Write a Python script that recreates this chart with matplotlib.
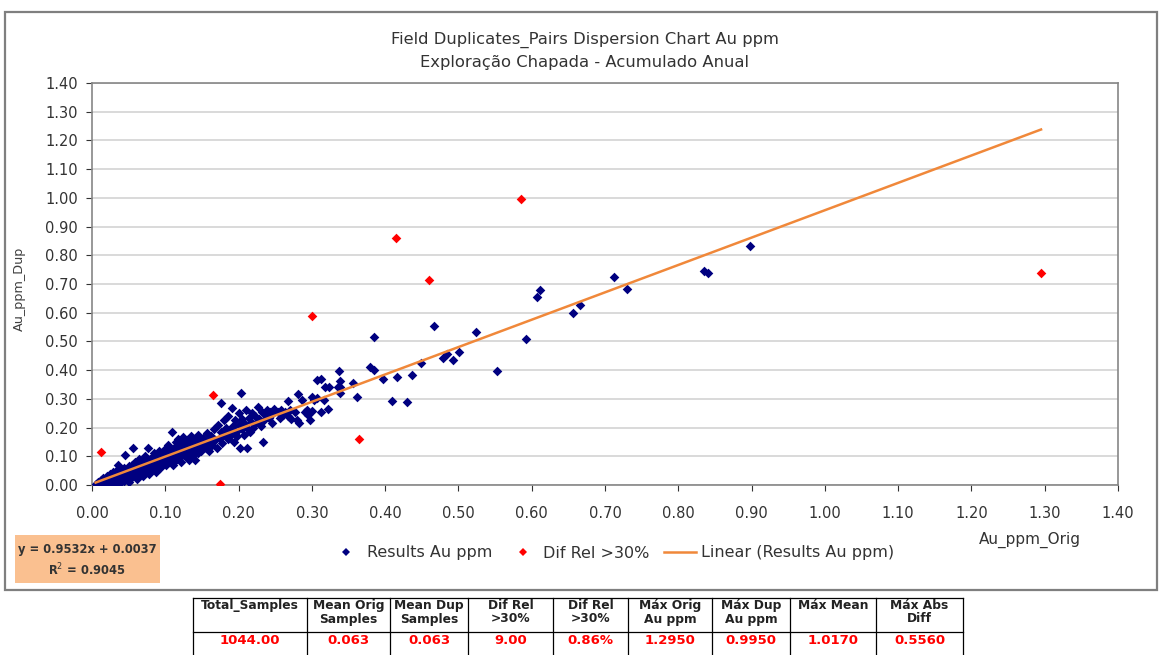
import matplotlib.pyplot as plt
import numpy as np
from matplotlib.lines import Line2D
from matplotlib.patches import Rectangle

# Results Au ppm (original vs duplicate)
results_x = [
    0.005, 0.008, 0.010, 0.012, 0.014, 0.015, 0.017, 0.018, 0.020, 0.021, 0.022, 0.024, 0.025, 0.026,
    0.027, 0.028, 0.030, 0.031, 0.032, 0.033, 0.034, 0.035, 0.036, 0.037, 0.038, 0.039, 0.040, 0.041,
    0.042, 0.043, 0.044, 0.045, 0.046, 0.047, 0.048, 0.049, 0.050, 0.050, 0.051, 0.045, 0.035, 0.056,
    0.052, 0.053, 0.054, 0.055, 0.056, 0.057, 0.058, 0.059, 0.060, 0.061, 0.062, 0.063, 0.064, 0.065,
    0.066, 0.067, 0.068, 0.069, 0.070, 0.071, 0.072, 0.073, 0.074, 0.075, 0.076, 0.077, 0.078, 0.079,
    0.080, 0.081, 0.082, 0.083, 0.084, 0.085, 0.086, 0.087, 0.088, 0.089, 0.090, 0.091, 0.092, 0.093,
    0.094, 0.095, 0.096, 0.097, 0.098, 0.099, 0.100, 0.100,
    0.101, 0.102, 0.103, 0.104, 0.105, 0.106, 0.107, 0.108, 0.109, 0.110, 0.111, 0.112, 0.113, 0.114,
    0.115, 0.116, 0.117, 0.118, 0.119, 0.120, 0.121, 0.122, 0.123, 0.124, 0.125, 0.126, 0.127, 0.128,
    0.129, 0.130, 0.131, 0.132, 0.133, 0.134, 0.135, 0.136, 0.137, 0.138, 0.139, 0.140, 0.141, 0.142,
    0.143, 0.144, 0.145, 0.146, 0.147, 0.148, 0.149, 0.150,
    0.152, 0.155, 0.157, 0.158, 0.160, 0.162, 0.164, 0.166, 0.168, 0.170, 0.172, 0.174, 0.176, 0.176,
    0.178, 0.180, 0.181, 0.183, 0.185, 0.186, 0.188, 0.190, 0.191, 0.192, 0.194, 0.195, 0.196, 0.198,
    0.200, 0.200, 0.202, 0.203, 0.204, 0.205, 0.207, 0.208, 0.210, 0.211, 0.212, 0.214, 0.215, 0.217,
    0.219, 0.220, 0.222, 0.224, 0.226, 0.228, 0.230, 0.232, 0.233, 0.235, 0.237, 0.239, 0.241, 0.243,
    0.245, 0.247, 0.249,
    0.254, 0.256, 0.258, 0.260, 0.263, 0.267, 0.268, 0.270, 0.272, 0.277, 0.280, 0.281, 0.283, 0.286,
    0.290, 0.293, 0.295, 0.297, 0.300, 0.300, 0.303, 0.307, 0.307, 0.312, 0.312, 0.316, 0.318, 0.322,
    0.324, 0.335, 0.337, 0.339, 0.339, 0.339,
    0.356, 0.362, 0.379, 0.385, 0.385, 0.397, 0.410, 0.416, 0.430, 0.436, 0.449, 0.467, 0.479, 0.484,
    0.493, 0.501, 0.524, 0.552, 0.592, 0.607, 0.611, 0.656, 0.666, 0.712, 0.730, 0.835, 0.840, 0.898,
]
results_y = [
    0.004, 0.012, 0.006, 0.018, 0.010, 0.025, 0.004, 0.016, 0.030, 0.010, 0.022, 0.038, 0.015, 0.005,
    0.028, 0.045, 0.020, 0.035, 0.012, 0.050, 0.028, 0.040, 0.018, 0.005, 0.033, 0.055, 0.025, 0.045,
    0.038, 0.015, 0.060, 0.030, 0.050, 0.042, 0.022, 0.035, 0.065, 0.048, 0.010, 0.105, 0.070, 0.130,
    0.055, 0.040, 0.028, 0.070, 0.060, 0.045, 0.035, 0.080, 0.052, 0.020, 0.065, 0.048, 0.090, 0.058,
    0.038, 0.072, 0.055, 0.030, 0.085, 0.065, 0.048, 0.100, 0.070, 0.058, 0.130, 0.078, 0.040, 0.090,
    0.068, 0.055, 0.095, 0.075, 0.110, 0.062, 0.085, 0.045, 0.100, 0.078, 0.068, 0.120, 0.088, 0.060,
    0.095, 0.080, 0.110, 0.072, 0.090, 0.125, 0.085, 0.100,
    0.068, 0.115, 0.095, 0.140, 0.080, 0.105, 0.125, 0.090, 0.185, 0.110, 0.070, 0.130, 0.100, 0.150,
    0.088, 0.120, 0.108, 0.160, 0.095, 0.135, 0.115, 0.080, 0.145, 0.168, 0.105, 0.125, 0.140, 0.098,
    0.155, 0.118, 0.130, 0.088, 0.148, 0.110, 0.170, 0.125, 0.138, 0.100, 0.160, 0.120, 0.087, 0.145,
    0.130, 0.175, 0.110, 0.150, 0.135, 0.160, 0.120, 0.140,
    0.165, 0.130, 0.180, 0.150, 0.120, 0.170, 0.140, 0.195, 0.155, 0.130, 0.210, 0.165, 0.286, 0.185,
    0.145, 0.225, 0.175, 0.200, 0.160, 0.240, 0.190, 0.175, 0.268, 0.205, 0.150, 0.225, 0.185, 0.170,
    0.250, 0.210, 0.129, 0.321, 0.195, 0.230, 0.175, 0.215, 0.260, 0.129, 0.200, 0.235, 0.185, 0.220,
    0.250, 0.200, 0.240, 0.215, 0.270, 0.230, 0.205, 0.255, 0.150, 0.225, 0.245, 0.260, 0.235, 0.255,
    0.215, 0.250, 0.265,
    0.254, 0.233, 0.262, 0.244, 0.254, 0.293, 0.240, 0.262, 0.230, 0.254, 0.227, 0.317, 0.216, 0.296,
    0.254, 0.262, 0.244, 0.227, 0.258, 0.306, 0.296, 0.366, 0.303, 0.255, 0.369, 0.296, 0.341, 0.265,
    0.341, 0.341, 0.397, 0.362, 0.341, 0.320,
    0.355, 0.307, 0.411, 0.400, 0.515, 0.369, 0.293, 0.376, 0.289, 0.383, 0.425, 0.554, 0.442, 0.456,
    0.435, 0.463, 0.533, 0.397, 0.509, 0.655, 0.679, 0.599, 0.627, 0.725, 0.683, 0.745, 0.740, 0.833,
]

# Dif Rel > 30% pairs
outlier_x = [0.012, 0.165, 0.175, 0.300, 0.365, 0.415, 0.460, 0.585, 1.295]
outlier_y = [0.115, 0.315, 0.005, 0.590, 0.160, 0.860, 0.715, 0.995, 0.740]

slope = 0.9532
intercept = 0.0037
r_squared = 0.9045

table_headers = ["Total_Samples", "Mean Orig\nSamples", "Mean Dup\nSamples", "Dif Rel\n>30%",
                 "Dif Rel\n>30%", "Máx Orig\nAu ppm", "Máx Dup\nAu ppm", "Máx Mean", "Máx Abs\nDiff"]
table_values = ["1044.00", "0.063", "0.063", "9.00", "0.86%", "1.2950", "0.9950", "1.0170", "0.5560"]

narrow = ['Liberation Sans Narrow', 'DejaVu Sans']
W, H = 1160, 655

fig = plt.figure(figsize=(11.6, 6.55), dpi=100)
fig.patch.set_facecolor('white')

# background axes in pixel coordinates for frame, box and table
bg = fig.add_axes([0, 0, 1, 1], zorder=0)
bg.set_xlim(0, W)
bg.set_ylim(H, 0)
bg.axis('off')

bg.add_patch(Rectangle((5, 12), 1152, 578, facecolor='white', edgecolor='#7f7f7f', lw=1.6))

ax = fig.add_axes([92 / W, 1 - 485 / H, 1026 / W, 402 / H], zorder=1)
ax.set_facecolor('none')

ax.scatter(results_x, results_y, marker='D', s=24, color='#000080', linewidths=0, zorder=3)
ax.scatter(outlier_x, outlier_y, marker='D', s=24, color='#ff0000', linewidths=0, zorder=4)

all_x = np.array(results_x + outlier_x)
line_x = np.array([all_x.min(), all_x.max()])
ax.plot(line_x, slope * line_x + intercept, color='#f0883a', lw=1.8, zorder=5)

ax.set_xlim(0, 1.4)
ax.set_ylim(0, 1.4)
ticks = np.round(np.arange(0, 1.41, 0.1), 2)
ax.set_xticks(ticks)
ax.set_yticks(ticks)
ax.set_xticklabels([f"{t:.2f}" for t in ticks])
ax.set_yticklabels([f"{t:.2f}" for t in ticks])
ax.tick_params(axis='x', direction='out', length=4, pad=11, labelsize=10.5, colors='#333333')
ax.tick_params(axis='y', direction='out', length=4, pad=6, labelsize=10.5, colors='#333333')
ax.yaxis.grid(True, color='#d9d9d9', lw=1.4)
ax.set_axisbelow(True)
for sp in ax.spines.values():
    sp.set_color('#868686')
    sp.set_linewidth(1.2)

# titles and axis labels
fig.text(585 / W, 1 - 40 / H, "Field Duplicates_Pairs Dispersion Chart Au ppm", ha='center', va='center',
         fontsize=11.8, family=narrow, color='#333333')
fig.text(585 / W, 1 - 62 / H, "Exploração Chapada - Acumulado Anual", ha='center', va='center',
         fontsize=11.8, family=narrow, color='#333333')
fig.text(19 / W, 1 - 289 / H, "Au_ppm_Dup", rotation=90, ha='center', va='center',
         fontsize=9.2, family=narrow, color='#404040')
fig.text(1030 / W, 1 - 540 / H, "Au_ppm_Orig", ha='center', va='center', fontsize=11, color='#333333')

# legend
handles = [
    Line2D([], [], marker='D', ls='none', color='#000080', markersize=4.5, markeredgewidth=0),
    Line2D([], [], marker='D', ls='none', color='#ff0000', markersize=4.5, markeredgewidth=0),
    Line2D([], [], color='#f0883a', lw=1.8),
]
fig.legend(handles, ["Results Au ppm", "Dif Rel >30%", "Linear (Results Au ppm)"], loc='center',
           bbox_to_anchor=(612 / W, 1 - 553 / H), ncol=3, frameon=False, fontsize=11.5,
           handlelength=2, handletextpad=0.3, columnspacing=0.9, labelcolor='#333333')

# regression equation box
bg.add_patch(Rectangle((15, 535), 145, 48, facecolor='#fac090', edgecolor='none'))
bg.text(87, 550, f"y = {slope:.4f}x + {intercept:.4f}", ha='center', va='center',
        fontsize=8.3, fontweight='bold', color='#333333')
bg.text(87, 570, f"R$^2$ = {r_squared:.4f}", ha='center', va='center',
        fontsize=8.3, fontweight='bold', color='#333333')

# summary table
col_edges = [193, 307, 390, 468, 553, 628, 712, 790, 876, 963]
top, mid, bottom = 598, 632, 660
bg.plot([col_edges[0], col_edges[-1]], [top, top], color='black', lw=0.9)
bg.plot([col_edges[0], col_edges[-1]], [mid, mid], color='black', lw=0.9)
for xe in col_edges:
    bg.plot([xe, xe], [top, bottom], color='black', lw=0.9)
for i, (hd, val) in enumerate(zip(table_headers, table_values)):
    cx = (col_edges[i] + col_edges[i + 1]) / 2
    bg.text(cx, top + 1, hd, ha='center', va='top', fontsize=8.8, fontweight='bold',
            color='#222222', linespacing=1.05)
    bg.text(cx, mid + 9, val, ha='center', va='center', fontsize=9.5, fontweight='bold', color='#ff0000')

fig.savefig("out.png", dpi=100)
